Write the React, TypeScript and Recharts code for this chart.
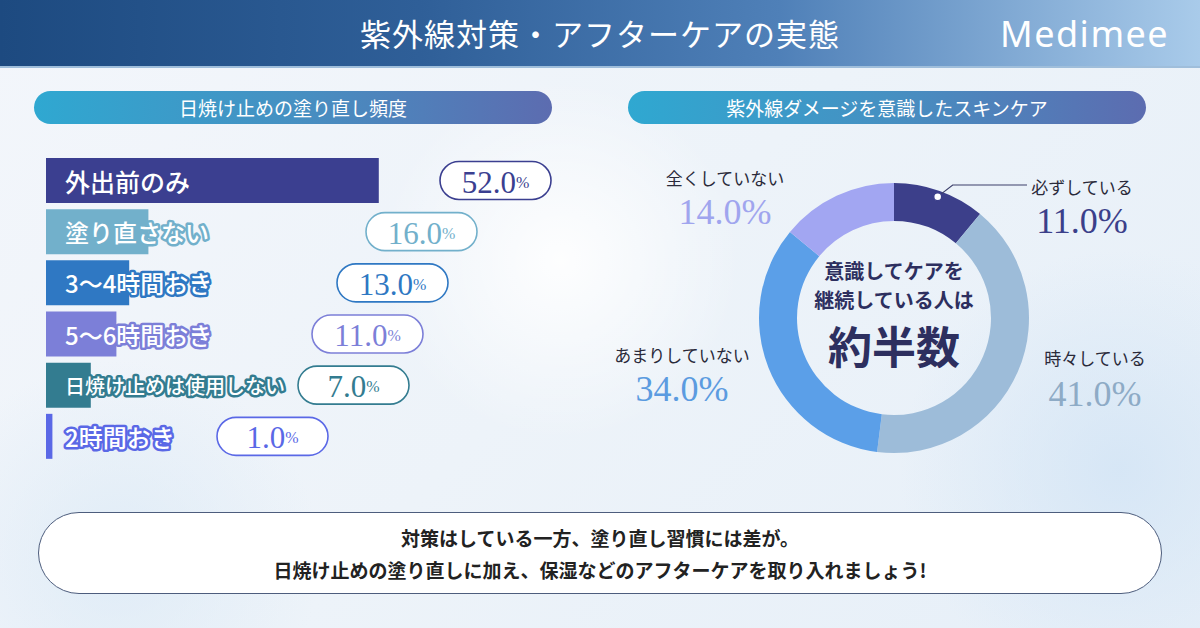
import React from 'react'
import { BarChart, Bar, XAxis, YAxis, Cell, LabelList, PieChart, Pie } from 'recharts'

// 日焼け止めの塗り直し頻度
const freqCategories = ['外出前のみ', '塗り直さない', '3〜4時間おき', '5〜6時間おき', '日焼け止めは使用しない', '2時間おき']
const freqShares = [52, 16, 13, 11, 7, 1]
const freqColors = ['#3b3f90', '#72b0cb', '#2f78c3', '#7c7fd8', '#337c90', '#5a68e6']
// pill left edge (px from bar start), laid out by hand like the original
const pillLeft = [394, 320, 291, 266, 252, 171]

// 紫外線ダメージを意識したスキンケア
const careCategories = ['必ずしている', '時々している', 'あまりしていない', '全くしていない']
const careShares = [11, 41, 34, 14]
const careColors = ['#3c3f8a', '#9dbcd9', '#5b9fe8', '#a2a6f2']
const careValueColors = ['#3b3f8a', '#8eabc6', '#5b9be0', '#a0a5ee']
// label anchor (center x, name y, value y) inside the pie svg
const careLabelPos = [
  { x: 482, ny: 36, vy: 71 },
  { x: 495, ny: 207, vy: 244 },
  { x: 82, ny: 204, vy: 239 },
  { x: 125, ny: 27, vy: 62 },
]

const JP = '"Noto Sans CJK JP", "Noto Sans", sans-serif'
const SERIF = '"Liberation Serif", "DejaVu Serif", serif'

const freqData = freqCategories.map((name, i) => ({ name, value: freqShares[i] }))
const careData = careCategories.map((name, i) => ({ name, value: careShares[i] }))

function BarLabel(props: any) {
  const { x, y, height, value } = props
  const i = freqCategories.indexOf(value)
  const color = freqColors[i]
  const cy = y + height / 2
  const long = String(value).length > 8
  const px = x + pillLeft[i]
  return (
    <g>
      <text
        x={x + 19}
        y={cy}
        dominantBaseline="central"
        fontFamily={JP}
        fontSize={long ? 20 : i === 0 ? 25 : 24}
        fontWeight={500}
        fill="#fff"
        stroke={color}
        strokeWidth={5}
        strokeLinejoin="round"
        style={{ paintOrder: 'stroke' }}
      >
        {value}
      </text>
      <rect x={px} y={cy - 19} width={111} height={38} rx={19} fill="#fff" stroke={color} strokeWidth={1.6} />
      <text x={px + 55.5} y={cy + 1} textAnchor="middle" dominantBaseline="central" fontFamily={SERIF} fill={color}>
        <tspan fontSize={31}>{freqShares[i].toFixed(1)}</tspan>
        <tspan fontSize={16}>%</tspan>
      </text>
    </g>
  )
}

function PieLabel(props: any) {
  const { cx, cy, midAngle, index } = props
  const pos = careLabelPos[index]
  const RAD = Math.PI / 180
  let leader = null
  if (index === 0) {
    const dx = cx + 129 * Math.cos(-midAngle * RAD)
    const dy = cy + 129 * Math.sin(-midAngle * RAD)
    leader = (
      <g>
        <polyline
          points={`${dx},${dy} ${dx + 15},${pos.ny - 1} ${pos.x - 55},${pos.ny - 1}`}
          fill="none"
          stroke="#3c3f6a"
          strokeWidth={1.2}
        />
        <circle cx={dx} cy={dy} r={4} fill="#fff" stroke="#3c3f8a" strokeWidth={1.5} />
      </g>
    )
  }
  return (
    <g>
      {leader}
      <text x={pos.x} y={pos.ny} textAnchor="middle" dominantBaseline="central" fontFamily={JP} fontSize={17} fill="#2a2a3a">
        {careCategories[index]}
      </text>
      <text x={pos.x} y={pos.vy} textAnchor="middle" dominantBaseline="central" fontFamily={SERIF} fontSize={36} fill={careValueColors[index]}>
        {careShares[index].toFixed(1)}%
      </text>
    </g>
  )
}

function SectionPill({ left, text }: { left: number; text: string }) {
  return (
    <div
      style={{
        position: 'absolute',
        left,
        top: 91,
        width: 518,
        height: 33,
        borderRadius: 17,
        background: 'linear-gradient(90deg, #2fa8d1 0%, #4690c2 50%, #5c6cb0 100%)',
        color: '#fff',
        fontFamily: JP,
        fontSize: 19,
        lineHeight: '33px',
        textAlign: 'center',
      }}
    >
      {text}
    </div>
  )
}

export default function App() {
  return (
    <div
      style={{
        position: 'absolute',
        left: 0,
        top: 0,
        width: 1200,
        height: 628,
        overflow: 'hidden',
        fontFamily: JP,
        background:
          'radial-gradient(circle at 560px 260px, rgba(255,255,255,0.9) 0, rgba(255,255,255,0) 180px),' +
          'radial-gradient(circle at 1120px 470px, rgba(210,228,245,0.8) 0, rgba(210,228,245,0) 220px),' +
          'radial-gradient(circle at 120px 560px, rgba(220,234,246,0.8) 0, rgba(220,234,246,0) 200px),' +
          'linear-gradient(135deg, #f3f6fb 0%, #edf3f9 50%, #e6eff8 100%)',
      }}
    >
      <div
        style={{
          position: 'absolute',
          left: 0,
          top: 0,
          width: 1200,
          height: 66,
          background: 'linear-gradient(90deg, #1d4a80 0%, #2f5f98 35%, #4f80b8 65%, #a9cbea 100%)',
          borderBottom: '2px solid #9fbedb',
        }}
      >
        <div
          style={{
            position: 'absolute',
            left: 0,
            width: 1200,
            top: 13,
            textAlign: 'center',
            color: '#fff',
            fontSize: 31,
            fontWeight: 400,
            lineHeight: '40px',
            letterSpacing: 1,
          }}
        >
          紫外線対策・アフターケアの実態
        </div>
        <div
          style={{
            position: 'absolute',
            left: 1000,
            top: 12,
            color: '#fff',
            fontFamily: '"Noto Sans", sans-serif',
            fontSize: 36,
            fontWeight: 400,
            letterSpacing: 1.5,
            lineHeight: '44px',
          }}
        >
          Medimee
        </div>
      </div>

      <SectionPill left={34} text="日焼け止めの塗り直し頻度" />
      <SectionPill left={628} text="紫外線ダメージを意識したスキンケア" />

      <div style={{ position: 'absolute', left: 46, top: 155 }}>
        <BarChart width={640} height={307} data={freqData} layout="vertical" margin={{ top: 0, right: 0, bottom: 0, left: 0 }}>
          <XAxis type="number" domain={[0, 100]} hide />
          <YAxis type="category" dataKey="name" hide width={0} />
          <Bar dataKey="value" barSize={45} isAnimationActive={false}>
            {freqData.map((d, i) => (
              <Cell key={d.name} fill={freqColors[i]} />
            ))}
            <LabelList dataKey="name" content={BarLabel} />
          </Bar>
        </BarChart>
      </div>

      <div style={{ position: 'absolute', left: 600, top: 150 }}>
        <PieChart width={560} height={330} margin={{ top: 0, right: 0, bottom: 0, left: 0 }}>
          <Pie
            data={careData}
            dataKey="value"
            nameKey="name"
            cx={294}
            cy={168}
            innerRadius={97}
            outerRadius={135}
            startAngle={90}
            endAngle={-270}
            stroke="none"
            label={PieLabel}
            labelLine={false}
            isAnimationActive={false}
          >
            {careData.map((d, i) => (
              <Cell key={d.name} fill={careColors[i]} />
            ))}
          </Pie>
        </PieChart>
      </div>

      <div
        style={{
          position: 'absolute',
          left: 794,
          top: 256,
          width: 200,
          textAlign: 'center',
          color: '#2d2f5f',
          fontWeight: 700,
        }}
      >
        <div style={{ fontSize: 20, lineHeight: '29px' }}>意識してケアを</div>
        <div style={{ fontSize: 20, lineHeight: '29px' }}>継続している人は</div>
        <div style={{ fontSize: 44, lineHeight: '62px' }}>約半数</div>
      </div>

      <div
        style={{
          position: 'absolute',
          left: 38,
          top: 512,
          width: 1124,
          height: 82,
          borderRadius: 41,
          border: '1.5px solid #4d5d7d',
          background: '#fff',
          textAlign: 'center',
          color: '#222',
          fontWeight: 700,
          fontSize: 19,
          lineHeight: '32px',
          paddingTop: 9,
          boxSizing: 'border-box',
        }}
      >
        <div>対策はしている一方、塗り直し習慣には差が。</div>
        <div>日焼け止めの塗り直しに加え、保湿などのアフターケアを取り入れましょう!</div>
      </div>
    </div>
  )
}
